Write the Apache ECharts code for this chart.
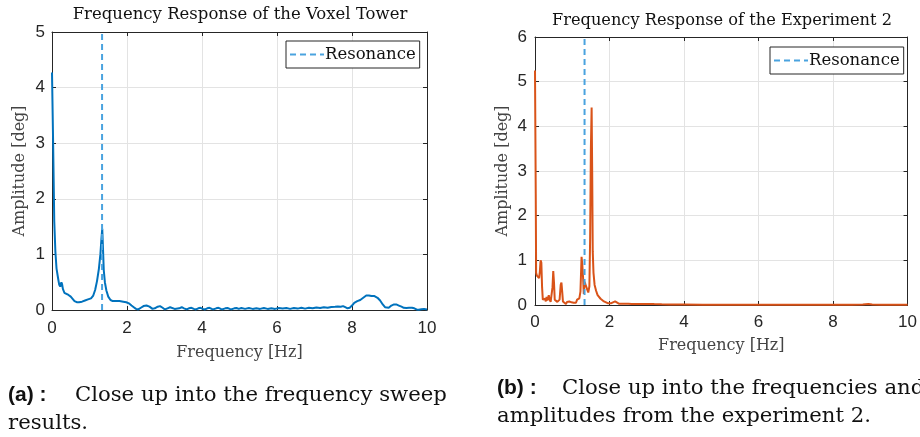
<!DOCTYPE html>
<html><head><meta charset="utf-8">
<script src="https://cdn.jsdelivr.net/npm/echarts@6/dist/echarts.min.js"></script>
<style>html,body{margin:0;padding:0;background:#fff}#c{width:920px;height:437px}</style>
</head><body><div id="c"></div>
<script>
// ---- data (a): Voxel Tower frequency sweep ----
const freqA = [0,0.03,0.06,0.09,0.12,0.16,0.19,0.22,0.25,0.27,0.29,0.33,0.38,0.44,0.50,0.55,0.60,0.66,0.72,0.80,0.88,0.96,1.04,1.10,1.15,1.20,1.25,1.29,1.32,1.34,1.36,1.38,1.41,1.45,1.50,1.56,1.62,1.70,1.80,1.90,1.98,2.05,2.12,2.18,2.24,2.30,2.37,2.44,2.52,2.60,2.68,2.74,2.82,2.88,2.95,3.01,3.08,3.15,3.20,3.27,3.32,3.39,3.46,3.52,3.59,3.65,3.72,3.78,3.84,3.90,3.96,4.02,4.08,4.14,4.20,4.26,4.32,4.38,4.44,4.50,4.56,4.62,4.68,4.74,4.80,4.86,4.92,4.98,5.05,5.15,5.25,5.35,5.45,5.55,5.65,5.75,5.85,5.95,6.05,6.15,6.25,6.35,6.45,6.55,6.65,6.75,6.85,6.95,7.05,7.15,7.25,7.35,7.45,7.55,7.62,7.70,7.76,7.82,7.88,7.94,8.00,8.06,8.14,8.22,8.30,8.38,8.45,8.52,8.60,8.68,8.75,8.82,8.88,8.93,8.98,9.05,9.12,9.18,9.25,9.32,9.38,9.45,9.52,9.60,9.66,9.72,9.78,9.85,9.92,10.0];
const ampA = [4.27,3.0,1.6,1.05,0.75,0.58,0.46,0.42,0.5,0.46,0.38,0.31,0.28,0.27,0.24,0.21,0.16,0.14,0.14,0.15,0.17,0.19,0.21,0.26,0.36,0.52,0.74,1.0,1.3,1.46,1.1,0.72,0.5,0.35,0.24,0.18,0.16,0.16,0.16,0.15,0.14,0.12,0.08,0.05,0.02,0.01,0.04,0.07,0.08,0.06,0.02,0.03,0.06,0.07,0.04,0.01,0.03,0.05,0.05,0.02,0.01,0.03,0.05,0.03,0.01,0.03,0.04,0.02,0.01,0.03,0.04,0.02,0.01,0.03,0.04,0.02,0.015,0.03,0.04,0.02,0.015,0.03,0.035,0.02,0.015,0.03,0.035,0.02,0.035,0.02,0.035,0.02,0.03,0.02,0.035,0.02,0.03,0.02,0.035,0.025,0.035,0.02,0.035,0.025,0.04,0.025,0.04,0.03,0.045,0.035,0.05,0.04,0.055,0.06,0.065,0.06,0.07,0.05,0.03,0.04,0.08,0.13,0.16,0.18,0.22,0.26,0.26,0.25,0.25,0.22,0.17,0.1,0.05,0.02,0.04,0.08,0.1,0.1,0.08,0.06,0.04,0.035,0.04,0.04,0.03,0.01,0.005,0.015,0.02,0.01];
// ---- data (b): Experiment 2 ----
const freqB = [0,0.02,0.03,0.05,0.07,0.09,0.11,0.13,0.15,0.17,0.19,0.21,0.24,0.27,0.29,0.31,0.33,0.35,0.37,0.39,0.42,0.45,0.47,0.49,0.51,0.53,0.56,0.60,0.63,0.66,0.69,0.71,0.73,0.75,0.79,0.83,0.86,0.89,0.92,0.95,0.98,1.01,1.04,1.07,1.10,1.13,1.16,1.19,1.22,1.25,1.27,1.29,1.31,1.33,1.35,1.37,1.40,1.43,1.46,1.48,1.50,1.52,1.535,1.55,1.57,1.60,1.64,1.68,1.72,1.76,1.80,1.85,1.90,1.95,2.00,2.05,2.10,2.15,2.20,2.25,2.30,2.40,2.50,2.60,2.70,2.80,2.90,3.00,3.10,3.20,3.40,3.60,3.80,4.0,4.5,5.0,5.5,6.0,6.5,7.0,7.5,8.0,8.5,8.8,8.95,9.05,9.3,9.6,10.0];
const ampB = [5.25,2.5,0.72,0.66,0.7,0.62,0.6,0.75,1.0,0.95,0.4,0.12,0.1,0.14,0.08,0.18,0.1,0.13,0.22,0.12,0.07,0.1,0.4,0.76,0.5,0.12,0.08,0.07,0.09,0.12,0.45,0.5,0.3,0.08,0.04,0.02,0.07,0.04,0.08,0.04,0.06,0.1,0.05,0.08,0.05,0.12,0.08,0.15,0.3,1.08,0.9,0.62,0.25,0.52,0.5,0.48,0.35,0.28,0.42,1.5,3.5,4.42,3.0,1.2,0.72,0.45,0.32,0.22,0.18,0.14,0.12,0.08,0.05,0.04,0.06,0.04,0.05,0.08,0.05,0.03,0.04,0.03,0.03,0.02,0.025,0.02,0.025,0.02,0.025,0.02,0.015,0.012,0.01,0.01,0.008,0.008,0.007,0.007,0.006,0.006,0.006,0.007,0.008,0.012,0.02,0.012,0.008,0.006,0.005];
const resonanceA = 1.335;
const resonanceB = 1.33;
const titles = ['Frequency Response of the Voxel Tower','Frequency Response of the Experiment 2'];
const xName = 'Frequency [Hz]', yName = 'Amplitude [deg]';
const captionA = ['(a) :', 'Close up into the frequency sweep', 'results.'];
const captionB = ['(b) :', 'Close up into the frequencies and', 'amplitudes from the experiment 2.'];

const pairs = (xs, ys) => xs.map((x, i) => [x, ys[i]]);
const AX = '#262626', GRID = '#e3e3e3';
const SANS = 'Liberation Sans', SERIF = 'DejaVu Serif';
const RES_COL = '#4aa3df';

function xAx(gi, bottom, gap, margin) {
  return {
    type: 'value', gridIndex: gi, min: 0, max: 10, interval: 2,
    position: bottom ? 'bottom' : 'top',
    name: bottom ? xName : '', nameLocation: 'middle', nameGap: gap,
    nameTextStyle: {fontFamily: SERIF, fontSize: 16, color: '#444'},
    axisLine: {show: true, onZero: false, lineStyle: {color: AX, width: 1}},
    axisTick: {show: true, inside: true, length: 4, lineStyle: {color: AX}},
    axisLabel: {show: bottom, margin: margin, fontFamily: SANS, fontSize: 17, color: AX},
    splitLine: {show: bottom, lineStyle: {color: GRID, width: 1}}
  };
}
function yAx(gi, left, max, gap, margin) {
  return {
    type: 'value', gridIndex: gi, min: 0, max: max, interval: 1,
    position: left ? 'left' : 'right',
    name: left ? yName : '', nameLocation: 'middle', nameGap: gap,
    nameTextStyle: {fontFamily: SERIF, fontSize: 16, color: '#444'},
    axisLine: {show: true, onZero: false, lineStyle: {color: AX, width: 1}},
    axisTick: {show: true, inside: true, length: 4, lineStyle: {color: AX}},
    axisLabel: {show: left, margin: margin, fontFamily: SANS, fontSize: 17, color: AX},
    splitLine: {show: left, lineStyle: {color: GRID, width: 1}}
  };
}
function legend(left, top) {
  return {
    left: left, top: top, data: ['Resonance'], orient: 'horizontal',
    backgroundColor: '#fff', borderColor: AX, borderWidth: 1,
    padding: [5, 4, 5, 3], itemWidth: 34, itemHeight: 14, itemGap: 0,
    itemStyle: {opacity: 0},
    textStyle: {fontFamily: SERIF, fontSize: 16.5, color: '#111', padding: [0, 0, 0, -4]},
    selectedMode: false
  };
}
function caption(x, y, lines, w) {
  const rich = {b: {fontFamily: SANS, fontWeight: 'bold', fontSize: 21, fill: '#111', width: w},
                n: {fontFamily: SERIF, fontSize: 21.2, fill: '#111'}};
  return [
    {type: 'text', x: x, y: y, style: {text: '{b|' + lines[0] + '}{n|' + lines[1] + '}', verticalAlign: 'middle', rich: rich}},
    {type: 'text', x: x, y: y + 28, style: {text: lines[2], font: '21.2px "DejaVu Serif"', fill: '#111', verticalAlign: 'middle'}}
  ];
}

const chart = echarts.init(document.getElementById('c'), null, {renderer: 'canvas'});
chart.setOption({
  animation: false,
  backgroundColor: '#fff',
  grid: [
    {left: 52, top: 32, width: 375, height: 278},
    {left: 535, top: 37, width: 374, height: 268}
  ],
  xAxis: [xAx(0, true, 35, 10), xAx(0, false), xAx(1, true, 33, 9), xAx(1, false)],
  yAxis: [yAx(0, true, 5, 24, 7), yAx(0, false, 5), yAx(1, true, 6, 24, 8), yAx(1, false, 6)],
  legend: [legend(286, 41), legend(770, 47)],
  series: [
    {type: 'line', name: 'Voxel', xAxisIndex: 0, yAxisIndex: 0, data: pairs(freqA, ampA),
     showSymbol: false, symbol: 'none', smooth: false, lineStyle: {color: '#0072BD', width: 2}, itemStyle: {color: '#0072BD'}, z: 3},
    {type: 'line', name: 'Resonance', xAxisIndex: 0, yAxisIndex: 0, data: [[resonanceA, 0], [resonanceA, 5]],
     showSymbol: false, symbol: 'none', lineStyle: {color: RES_COL, width: 2, type: [6, 4]}, itemStyle: {color: RES_COL, opacity: 0}, z: 4},
    {type: 'line', name: 'Exp2', xAxisIndex: 2, yAxisIndex: 2, data: pairs(freqB, ampB),
     showSymbol: false, symbol: 'none', lineStyle: {color: '#D95319', width: 2}, itemStyle: {color: '#D95319'}, z: 3},
    {type: 'line', name: 'Resonance', xAxisIndex: 2, yAxisIndex: 2, data: [[resonanceB, 0], [resonanceB, 6]],
     showSymbol: false, symbol: 'none', lineStyle: {color: RES_COL, width: 2, type: [6, 4]}, itemStyle: {color: RES_COL, opacity: 0}, z: 4}
  ],
  graphic: [
    {type: 'text', x: 240, y: 15, style: {text: titles[0], font: '16.5px "DejaVu Serif"', fill: '#111', align: 'center', verticalAlign: 'middle'}},
    {type: 'text', x: 722, y: 21, style: {text: titles[1], font: '16.2px "DejaVu Serif"', fill: '#111', align: 'center', verticalAlign: 'middle'}}
  ].concat(caption(8, 395, captionA, 67), caption(497, 388, captionB, 65))
});
</script></body></html>
